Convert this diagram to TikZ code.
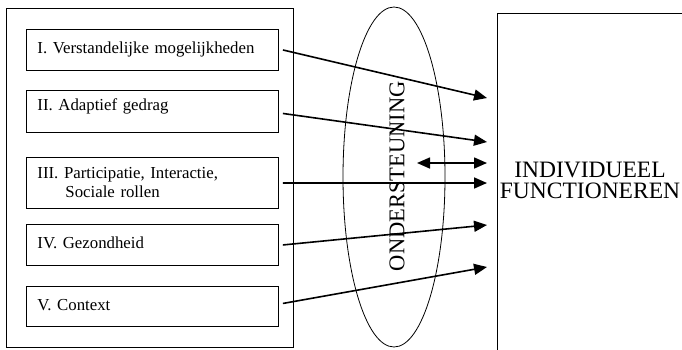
\documentclass[tikz,border=0pt]{standalone}
\usepackage{fontspec}
\setmainfont{Liberation Serif}
\usetikzlibrary{arrows.meta, positioning, shapes.geometric}

\begin{document}
\begin{tikzpicture}[
    x=1pt, y=-1pt,
    dombox/.style={draw, line width=0.9pt, rectangle, anchor=north west, minimum width=252pt, minimum height=41pt, text width=230pt, inner xsep=11pt, inner ysep=0pt, align=left, font=\fontsize{16.8}{19}\selectfont},
    oneline/.style={text height=12pt, text depth=4pt},
    arrow/.style={-{Triangle[length=13pt, width=11pt]}, line width=1.6pt},
    both arrow/.style={{Triangle[length=13pt, width=11pt]}-{Triangle[length=13pt, width=11pt]}, line width=1.6pt}]

\useasboundingbox (0,0) rectangle (682,349);
\clip (0,0) rectangle (682,349);

\node[draw, line width=0.9pt, anchor=north west, minimum width=287pt, minimum height=339pt, inner sep=0pt] (domains) at (6,8) {};

\node[dombox, oneline] (intel) at (26,29) {I. Verstandelijke mogelijkheden};
\node[dombox, oneline, text depth=14pt, minimum height=42pt] (adapt) at (26,90) {II. Adaptief gedrag};
\node[dombox, minimum height=51pt] (partic) at (26,157) {III. Participatie, Interactie,\\\hspace*{28pt}Sociale rollen};
\node[dombox, oneline] (health) at (26,224) {IV. Gezondheid};
\node[dombox, oneline, minimum height=40pt] (context) at (26,286) {V. Context};

\node[draw, ellipse, line width=0.8pt, minimum width=102pt, minimum height=340pt, inner sep=0pt] (support) at (394,177) {};
\node[rotate=90, inner sep=0pt, font=\fontsize{22.5}{22}\selectfont] (supporttext) at (397,176) {ONDERSTEUNING};

\node[draw, line width=1pt, anchor=north west, minimum width=260pt, minimum height=400pt] (functioning) at (497,13) {};
\node[align=center, inner sep=0pt, font=\fontsize{23.5}{21}\selectfont] (functext) at (590,180) {INDIVIDUEEL\\FUNCTIONEREN};

\coordinate (tipI) at (487,98);
\coordinate (tipII) at (487,142);
\coordinate (tipIII) at (487,183);
\coordinate (tipIV) at (487,225);
\coordinate (tipV) at (487,267);
\coordinate (loopL) at (417,163);
\coordinate (loopR) at (487,163);

\draw[arrow] ([xshift=4pt]intel.east) -- (tipI);
\draw[arrow] ([xshift=4pt,yshift=-2pt]adapt.east) -- (tipII);
\draw[arrow] ([xshift=4pt]partic.east) -- (tipIII);
\draw[arrow] ([xshift=4pt]health.east) -- (tipIV);
\draw[arrow] ([xshift=4pt,yshift=3pt]context.east) -- (tipV);
\draw[both arrow] (loopL) -- (loopR);

\end{tikzpicture}
\end{document}
